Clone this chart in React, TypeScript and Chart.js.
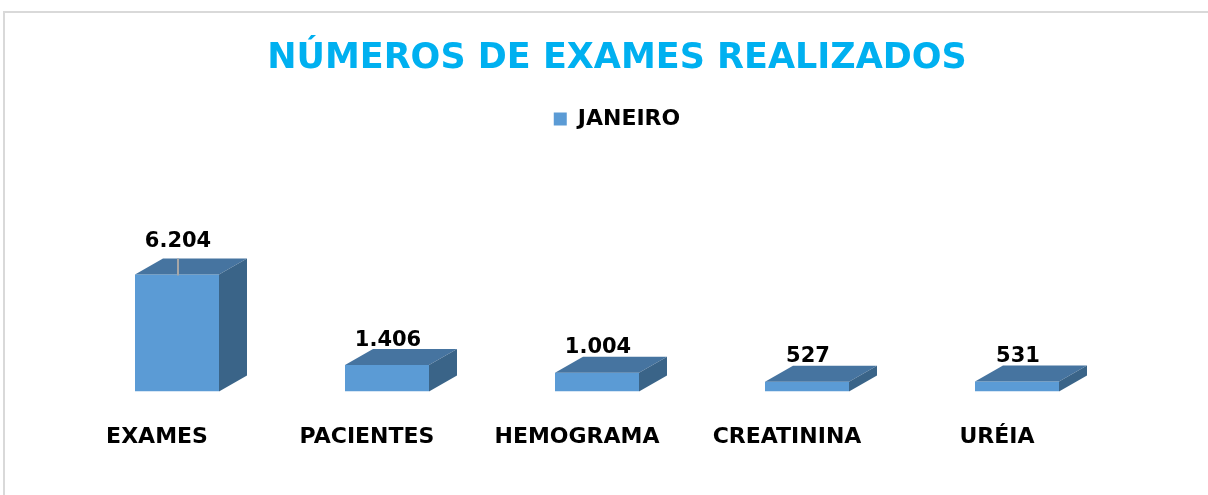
import React, { useEffect, useRef } from "react";
import { Chart, registerables } from "chart.js";

Chart.register(...registerables);

const categories = ["EXAMES", "PACIENTES", "HEMOGRAMA", "CREATININA", "URÉIA"];
const janeiroValues = [6204, 1406, 1004, 527, 531];
const seriesName = "JANEIRO";
const chartTitle = "NÚMEROS DE EXAMES REALIZADOS";

const FRONT = "#5B9BD5";
const TOP = "#4674A0";
const SIDE = "#3A6488";
const FONT = "'DejaVu Sans', sans-serif";

const fmt = (v: number) => v.toLocaleString("de-DE");

const bar3d = {
  id: "bar3d",
  afterDatasetsDraw(chart: any) {
    const { ctx } = chart;
    const meta = chart.getDatasetMeta(0);
    const dx = 28;
    const dy = 16;
    meta.data.forEach((bar: any, i: number) => {
      const p = bar.getProps(["x", "y", "base", "width"], true);
      const left = p.x - p.width / 2;
      const right = p.x + p.width / 2;
      const top = p.y;
      const base = p.base;
      ctx.save();
      // top face
      ctx.fillStyle = TOP;
      ctx.beginPath();
      ctx.moveTo(left, top);
      ctx.lineTo(right, top);
      ctx.lineTo(right + dx, top - dy);
      ctx.lineTo(left + dx, top - dy);
      ctx.closePath();
      ctx.fill();
      // side face
      ctx.fillStyle = SIDE;
      ctx.beginPath();
      ctx.moveTo(right, top);
      ctx.lineTo(right + dx, top - dy);
      ctx.lineTo(right + dx, base - dy);
      ctx.lineTo(right, base);
      ctx.closePath();
      ctx.fill();
      // data label
      const lift = i === 0 ? 8 : 0;
      const ly = top - 25 - lift;
      if (lift > 0) {
        ctx.strokeStyle = "#A6A6A6";
        ctx.lineWidth = 2;
        ctx.beginPath();
        ctx.moveTo(p.x + 1, top - dy);
        ctx.lineTo(p.x + 1, top + 1);
        ctx.stroke();
      }
      ctx.fillStyle = "#000";
      ctx.font = `bold 21px ${FONT}`;
      ctx.textAlign = "center";
      ctx.textBaseline = "middle";
      ctx.fillText(fmt(janeiroValues[i]), p.x + 1, ly);
      ctx.restore();
    });
  },
};

export default function App() {
  const ref = useRef<HTMLCanvasElement>(null);
  useEffect(() => {
    if (!ref.current) return;
    const chart = new Chart(ref.current, {
      type: "bar",
      data: {
        labels: categories,
        datasets: [
          {
            label: seriesName,
            data: janeiroValues,
            backgroundColor: FRONT,
            borderWidth: 0,
            barPercentage: 0.4,
            categoryPercentage: 1,
          },
        ],
      },
      options: {
        animation: false,
        responsive: true,
        maintainAspectRatio: false,
        layout: { padding: { left: 72, right: 46, top: 0, bottom: 13 } },
        plugins: {
          title: {
            display: true,
            text: chartTitle,
            color: "#00B0F0",
            font: { family: FONT, size: 35, weight: "bold" },
            padding: { top: 38, bottom: 18 },
          },
          legend: {
            display: true,
            labels: {
              color: "#000",
              font: { family: FONT, size: 22, weight: "bold" },
              boxWidth: 13,
              boxHeight: 13,
              padding: 10,
            },
          },
          tooltip: { enabled: false },
        },
        scales: {
          x: {
            grid: { display: false, drawTicks: false },
            border: { display: false },
            ticks: {
              color: "#000",
              font: { family: FONT, size: 22, weight: "bold" },
              padding: 32,
              labelOffset: -20,
              maxRotation: 0,
              autoSkip: false,
            },
          },
          y: {
            position: "right",
            min: 0,
            max: 13340,
            grid: { display: false, drawTicks: false },
            border: { display: false },
            ticks: { display: false },
            afterFit: (s: any) => {
              s.width = 40;
            },
          },
        },
      },
      plugins: [bar3d],
    });
    return () => chart.destroy();
  }, []);

  return (
    <div style={{ position: "fixed", left: 0, top: 0, width: 1208, height: 495, background: "#fff", overflow: "hidden" }}>
      <div
        style={{
          position: "absolute",
          left: 3,
          top: 11,
          right: -10,
          bottom: -10,
          borderTop: "2px solid #D9D9D9",
          borderLeft: "2px solid #D9D9D9",
        }}
      />
      <canvas ref={ref} style={{ position: "absolute", left: 0, top: 0, width: 1208, height: 495 }} />
    </div>
  );
}
